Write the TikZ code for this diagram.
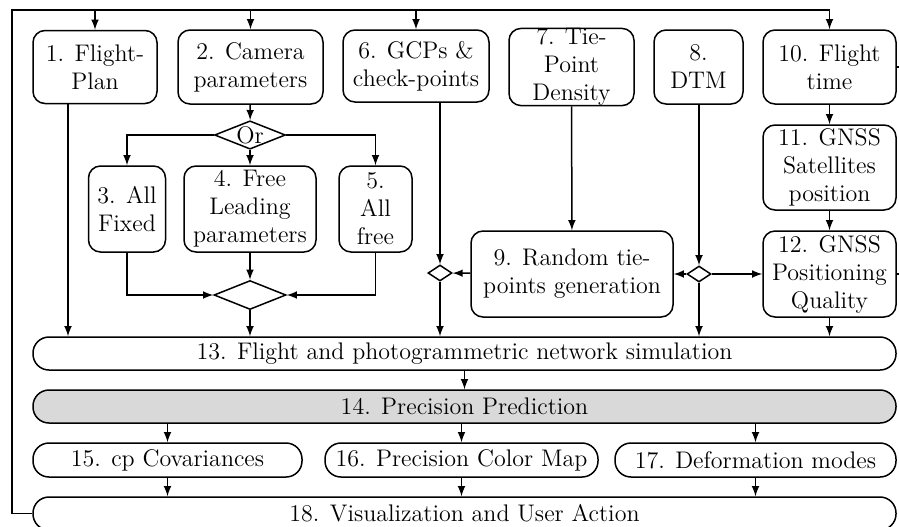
\documentclass[tikz,border=0pt]{standalone}
\usepackage{amsmath,amssymb}
\usepackage{tikz}
\usetikzlibrary{arrows,positioning,shapes.geometric}
\tikzset{font=\large}
\tikzstyle{blk}=[draw,rounded corners=6pt,align=center,inner sep=1pt]
\tikzstyle{bar}=[draw,rounded corners=8pt,minimum width=431.5pt,minimum height=16.5pt,inner sep=0pt]
\tikzstyle{dia}=[draw,diamond,inner sep=0pt]
\tikzset{every picture/.style={line width=0.75pt}}

\begin{document}
\begin{tikzpicture}[x=0.5pt,y=-0.5pt,>=latex]
\useasboundingbox (0,0) rectangle (899,526);
% inputs
\node[blk,minimum width=62pt,minimum height=36.5pt] (n1) at (95,67) {1. Flight-\\Plan};
\node[blk,minimum width=72.5pt,minimum height=37pt] (n2) at (250.5,67) {2. Camera\\parameters};
\node[blk,minimum width=73pt,minimum height=36pt] (n6) at (416,66) {6. GCPs \&\\check-points};
\node[blk,minimum width=62.5pt,minimum height=37pt,inner ysep=0pt] (n7) at (571.5,67) {7. Tie-\\Point\\Density};
\node[blk,minimum width=44.5pt,minimum height=37pt] (n8) at (698.5,67) {8.\\DTM};
\node[blk,minimum width=66.5pt,minimum height=37pt] (n10) at (829.5,67) {10. Flight\\time};
\node[blk,minimum width=66.5pt,minimum height=42.5pt] (n11) at (829.5,167.5) {11. GNSS\\Satellites\\position};
\node[blk,minimum width=66.5pt,minimum height=43pt] (n12) at (829.5,274) {12. GNSS\\Positioning\\Quality};
% camera options
\node[dia,aspect=2.5,minimum width=35pt,minimum height=14pt] (or) at (250,135) {Or};
\node[blk,minimum width=38.5pt,minimum height=43pt] (n3) at (127,209) {3. All\\Fixed};
\node[blk,minimum width=66pt,minimum height=43pt] (n4) at (250,209) {4. Free\\Leading\\parameters};
\node[blk,minimum width=36.5pt,minimum height=43pt] (n5) at (375.5,209) {5.\\All\\free};
\node[dia,minimum width=36pt,minimum height=14.5pt] (mg) at (250,295) {};
% tie-points
\node[blk,minimum width=101pt,minimum height=43pt] (n9) at (572,274) {9. Random tie-\\points generation};
\node[dia,minimum width=12pt,minimum height=8pt] (dL) at (440,273) {};
\node[dia,minimum width=12pt,minimum height=8pt] (dR) at (699,274) {};
% main chain
\node[bar] (n13) at (464.5,353.5) {13. Flight and photogrammetric network simulation};
\node[bar,fill=black!15] (n14) at (464.5,406.5) {14. Precision Prediction};
\node[bar,minimum width=134.5pt,minimum height=17pt] (n15) at (167.5,460) {15. cp Covariances};
\node[bar,minimum width=136.5pt,minimum height=17pt] (n16) at (461.5,460) {16. Precision Color Map};
\node[bar,minimum width=140.5pt,minimum height=17pt] (n17) at (755.5,460) {17. Deformation modes};
\node[bar] (n18) at (464.5,513.5) {18. Visualization and User Action};
\coordinate (top) at (12,10);
\coordinate (rim) at (899,0);
\coordinate (b1) at ([xshift=-13.5pt]n1.south);
% feedback loop
\draw[->] (n18.west) -| (top) -| (n10.north);
\foreach \n in {n1,n2,n6}
  \draw[->] (\n.north |- top) -- (\n.north);
\draw (n10.east) -- (n10.east -| rim);
\draw (n12.east) -- (n12.east -| rim);
\path[->]
(n2) edge (or)
(or) edge (n4)
(n4) edge (mg)
(n7) edge (n9)
(n10) edge (n11)
(n11) edge (n12)
(dR) edge (n9)
(dR) edge (n12)
(n9) edge (dL)
(n13) edge (n14);
\draw[->] (or.west) -| (n3.north);
\draw[->] (or.east) -| (n5.north);
\draw[->] (n3.south) |- (mg.west);
\draw[->] (n5.south) |- (mg.east);
\draw[->] (b1) -- (b1 |- n13.north);
\draw[->] (mg.south) -- (mg.south |- n13.north);
\draw[->] (n6.south -| dL) -- (dL.north);
\draw[->] (dL.south) -- (dL.south |- n13.north);
\draw[->] (n8.south -| dR) -- (dR.north);
\draw[->] (dR.south) -- (dR.south |- n13.north);
\draw[->] (n12.south) -- (n12.south |- n13.north);
\foreach \n in {n15,n16,n17} {
  \draw[->] (n14.south -| \n) -- (\n.north);
  \draw[->] (\n.south) -- (\n.south |- n18.north);
}
\end{tikzpicture}
\end{document}
